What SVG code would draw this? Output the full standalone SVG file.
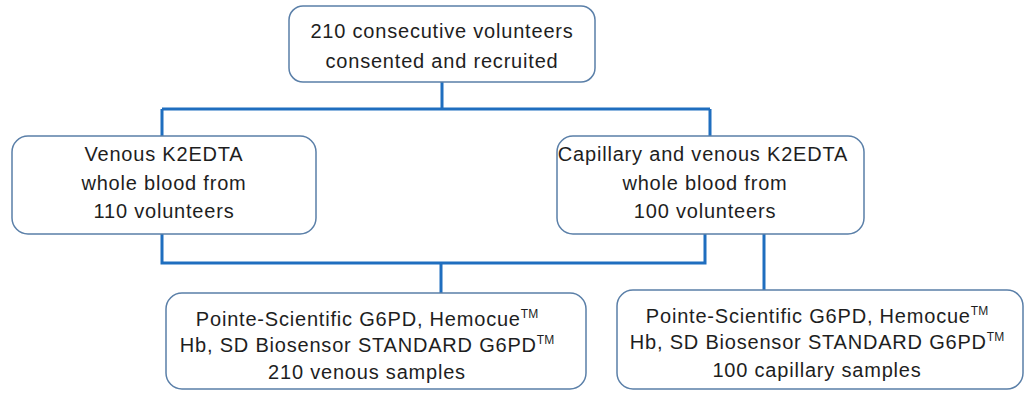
<svg xmlns="http://www.w3.org/2000/svg" width="1026" height="393" viewBox="0 0 1026 393">
<style>
.box{fill:#fff;stroke:#5a7fa8;stroke-width:1.5}
.t{font-family:"Liberation Sans",Arial,sans-serif;font-size:20px;letter-spacing:0.8px;fill:#1e1e1e;text-anchor:middle}
.sup{font-size:12px;letter-spacing:0}
.c{fill:none;stroke:#1f6ebf;stroke-width:3}
</style>
<rect width="1026" height="393" fill="#fff"/>
<g id="connectors">
<path class="c" d="M442,82 V109 M162,109 H710 M162,109 V136 M710,109 V136"/>
<path class="c" d="M162,234 V263 H705 V234 M441,263 V293"/>
<path class="c" d="M764,234 V290"/>
</g>
<g id="n1">
<rect class="box" x="289" y="6" width="306" height="76" rx="14"/>
<text class="t" x="442" y="38">210 consecutive volunteers</text>
<text class="t" x="442" y="68">consented and recruited</text>
</g>
<g id="n2">
<rect class="box" x="12" y="136" width="304" height="98" rx="16"/>
<text class="t" x="164" y="161">Venous K2EDTA</text>
<text class="t" x="164" y="190">whole blood from</text>
<text class="t" x="164" y="218">110 volunteers</text>
</g>
<g id="n3">
<rect class="box" x="557" y="136" width="307" height="98" rx="16"/>
<text class="t" x="703" y="161">Capillary and venous K2EDTA</text>
<text class="t" x="705" y="190">whole blood from</text>
<text class="t" x="705" y="218">100 volunteers</text>
</g>
<g id="n4">
<rect class="box" x="166" y="293" width="420" height="96" rx="16"/>
<text class="t" x="367" y="326">Pointe-Scientific G6PD, Hemocue<tspan class="sup" dy="-8">TM</tspan></text>
<text class="t" x="367" y="352">Hb, SD Biosensor STANDARD G6PD<tspan class="sup" dy="-8">TM</tspan></text>
<text class="t" x="367" y="379">210 venous samples</text>
</g>
<g id="n5">
<rect class="box" x="617" y="290" width="406" height="99" rx="16"/>
<text class="t" x="817" y="323">Pointe-Scientific G6PD, Hemocue<tspan class="sup" dy="-8">TM</tspan></text>
<text class="t" x="817" y="349">Hb, SD Biosensor STANDARD G6PD<tspan class="sup" dy="-8">TM</tspan></text>
<text class="t" x="817" y="377">100 capillary samples</text>
</g>
</svg>
